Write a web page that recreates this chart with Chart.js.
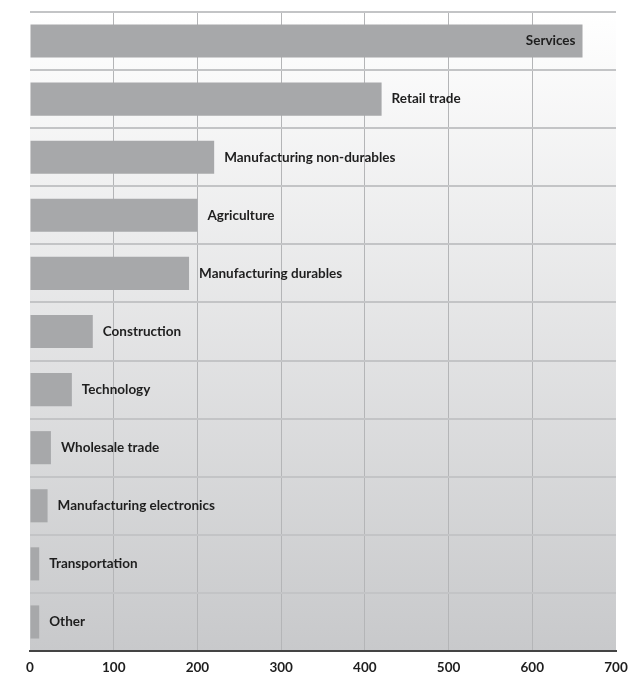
<!DOCTYPE html>
<html>
<head>
<meta charset="utf-8">
<script src="https://cdn.jsdelivr.net/npm/chart.js@4/dist/chart.umd.min.js"></script>
<style>
html,body{margin:0;padding:0;background:#fff;}
#wrap{width:629px;height:674px;position:relative;}
</style>
</head>
<body>
<div id="wrap"><canvas id="c" width="629" height="674"></canvas></div>
<script>
const categories = ["Services","Retail trade","Manufacturing non-durables","Agriculture","Manufacturing durables","Construction","Technology","Wholesale trade","Manufacturing electronics","Transportation","Other"];
const values = [660, 420, 220, 200, 190, 75, 50, 25, 21, 11, 11];
const xTicks = [0, 100, 200, 300, 400, 500, 600, 700];

const FONT = "Lato, 'Open Sans', sans-serif";

const bgPlugin = {
  id: 'bg',
  beforeDraw(chart) {
    const {ctx, chartArea: a} = chart;
    const g = ctx.createLinearGradient(0, a.top, 0, a.bottom);
    g.addColorStop(0, '#ffffff');
    g.addColorStop(1, '#c8c9cb');
    ctx.save();
    ctx.fillStyle = g;
    ctx.fillRect(a.left, a.top, a.right - a.left, a.bottom - a.top);
    ctx.restore();
  }
};

const labelPlugin = {
  id: 'barLabels',
  afterDatasetsDraw(chart) {
    const {ctx, chartArea: a} = chart;
    const meta = chart.getDatasetMeta(0);
    ctx.save();
    ctx.font = "bold 13.5px " + FONT;
    ctx.fillStyle = '#1e1e1e';
    ctx.textBaseline = 'middle';
    meta.data.forEach((bar, i) => {
      const text = categories[i];
      const w = ctx.measureText(text).width;
      if (bar.x + 10 + w > a.right) {
        ctx.textAlign = 'right';
        ctx.fillText(text, bar.x - 7, bar.y);
      } else {
        ctx.textAlign = 'left';
        ctx.fillText(text, bar.x + 10, bar.y);
      }
    });
    ctx.restore();
  }
};

new Chart(document.getElementById('c'), {
  type: 'bar',
  data: {
    labels: categories,
    datasets: [{
      data: values,
      backgroundColor: '#a7a8aa',
      borderWidth: 0,
      categoryPercentage: 1,
      barPercentage: 0.57
    }]
  },
  options: {
    indexAxis: 'y',
    responsive: false,
    animation: false,
    layout: { padding: { left: 30, right: 13, top: 12, bottom: 0 } },
    plugins: { legend: { display: false }, tooltip: { enabled: false } },
    scales: {
      x: {
        min: 0, max: 700,
        afterBuildTicks(scale) { scale.ticks = xTicks.map(v => ({value: v})); },
        afterFit(scale) { scale.height = 23; scale.paddingLeft = 0; scale.paddingRight = 0; },
        ticks: {
          padding: 9,
          color: '#1e1e1e',
          font: { family: FONT, weight: 'bold', size: 13.5 },
          maxRotation: 0
        },
        grid: {
          drawTicks: false,
          lineWidth: 1,
          color: (ctx) => (ctx.tick && (ctx.tick.value === 0 || ctx.tick.value === 700)) ? 'rgba(0,0,0,0)' : '#b4b5b7'
        },
        border: { display: true, color: '#444444', width: 2, z: 1 }
      },
      y: {
        display: true,
        ticks: { display: false },
        afterFit(scale) { scale.width = 0; },
        grid: {
          offset: true,
          drawTicks: false,
          lineWidth: 2,
          color: '#c3c4c6'
        },
        border: { display: false }
      }
    }
  },
  plugins: [bgPlugin, labelPlugin]
});
</script>
</body>
</html>
